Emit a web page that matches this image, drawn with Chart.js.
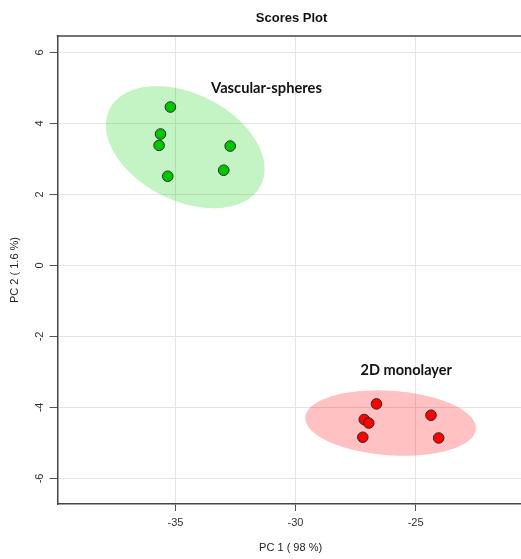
<!DOCTYPE html>
<html>
<head>
<meta charset="utf-8">
<script src="https://cdn.jsdelivr.net/npm/chart.js@4/dist/chart.umd.min.js"></script>
<style>
html,body{margin:0;padding:0;overflow:hidden;background:#fff;}
#wrap{width:521px;height:559px;position:relative;overflow:hidden;}
#c{position:absolute;left:0;top:0;}
</style>
</head>
<body>
<div id="wrap"><canvas id="c" width="530" height="559" style="width:530px;height:559px"></canvas></div>
<script>
// ---- data ----
const groups = ["Vascular-spheres", "2D monolayer"];
const vascX = [-35.21, -35.62, -35.68, -35.32, -32.72, -32.99];
const vascY = [4.46, 3.70, 3.38, 2.51, 3.36, 2.68];
const monoX = [-26.63, -27.14, -26.95, -27.20, -24.36, -24.04];
const monoY = [-3.90, -4.34, -4.44, -4.84, -4.22, -4.86];
// confidence ellipses: centre and two conjugate half-axis vectors (data units)
const ellCX = [-34.59, -26.04];
const ellCY = [3.33, -4.44];
const ellU = [[3.149, -1.070], [3.551, -0.164]];
const ellV = [[-0.994, -1.345], [-0.091, -0.906]];
// group label anchors (data units)
const labelX = [-31.21, -25.39];
const labelY = [4.99, -2.95];
const xTickStep = 5;
const yTickStep = 2;
const xRange = [-39.91, -20.5];
const yRange = [-6.72, 6.46];
const titleText = "Scores Plot";
const xTitle = "PC 1 ( 98 %)";
const yTitle = "PC 2 ( 1.6 %)";

const pointFill = ["#00c800", "#ff0000"];
const ellFill = ["rgba(0,205,0,0.23)", "rgba(255,0,0,0.245)"];

function pts(xs, ys){ return xs.map((x,i)=>({x:x, y:ys[i]})); }
function onStep(v, step){ return Math.abs(v/step - Math.round(v/step)) < 1e-6; }
function gridCol(step){ return (c)=> (c.tick && onStep(c.tick.value, step)) ? '#e4e4e4' : 'rgba(0,0,0,0)'; }
function tickCol(step){ return (c)=> (c.tick && onStep(c.tick.value, step)) ? '#555' : 'rgba(0,0,0,0)'; }

const decor = {
  id: 'decor',
  beforeDatasetsDraw(chart){
    const ctx = chart.ctx, xs = chart.scales.x, ys = chart.scales.y;
    const ca = chart.chartArea;
    ctx.save();
    ctx.beginPath();
    ctx.rect(ca.left, ca.top, ca.right-ca.left, ca.bottom-ca.top);
    ctx.clip();
    for (let g=0; g<ellCX.length; g++){
      ctx.beginPath();
      for (let k=0; k<=180; k++){
        const t = k/180*Math.PI*2;
        const dx = ellCX[g] + Math.cos(t)*ellU[g][0] + Math.sin(t)*ellV[g][0];
        const dy = ellCY[g] + Math.cos(t)*ellU[g][1] + Math.sin(t)*ellV[g][1];
        const px = xs.getPixelForValue(dx), py = ys.getPixelForValue(dy);
        if (k===0) ctx.moveTo(px,py); else ctx.lineTo(px,py);
      }
      ctx.closePath();
      ctx.fillStyle = ellFill[g];
      ctx.fill();
    }
    ctx.restore();
  },
  afterDraw(chart){
    const ctx = chart.ctx, xs = chart.scales.x, ys = chart.scales.y;
    const ca = chart.chartArea;
    ctx.save();
    // top border of the box
    ctx.strokeStyle = '#444';
    ctx.lineWidth = 1.5;
    ctx.beginPath();
    ctx.moveTo(ca.left-0.75, ca.top);
    ctx.lineTo(ca.right, ca.top);
    ctx.stroke();
    // title
    ctx.fillStyle = '#111';
    ctx.font = 'bold 13px "Liberation Sans", Arial, sans-serif';
    ctx.textAlign = 'center';
    ctx.textBaseline = 'middle';
    ctx.fillText(titleText, (ca.left+ca.right)/2 + 1, 18);
    // y tick labels (rotated, R style)
    ctx.font = '11px "Liberation Sans", Arial, sans-serif';
    ctx.fillStyle = '#333';
    ys.ticks.forEach(t=>{
      if (!onStep(t.value, yTickStep)) return;
      const py = ys.getPixelForValue(t.value);
      ctx.save();
      ctx.translate(40, py);
      ctx.rotate(-Math.PI/2);
      ctx.fillText(t.label, 0, 0);
      ctx.restore();
    });
    // group labels
    ctx.fillStyle = '#111';
    const gSize = [14.7, 14.5];
    for (let g=0; g<groups.length; g++){
      ctx.font = 'bold ' + gSize[g] + 'px Lato, "Open Sans", sans-serif';
      ctx.fillText(groups[g], xs.getPixelForValue(labelX[g]), ys.getPixelForValue(labelY[g]));
    }
    ctx.restore();
  }
};

new Chart(document.getElementById('c'), {
  type: 'scatter',
  data: {
    datasets: [
      { label: groups[0], data: pts(vascX, vascY), backgroundColor: pointFill[0], borderColor: '#2a2a2a', borderWidth: 1, pointRadius: 5.3, pointHoverRadius: 5.3 },
      { label: groups[1], data: pts(monoX, monoY), backgroundColor: pointFill[1], borderColor: '#2a2a2a', borderWidth: 1, pointRadius: 5.3, pointHoverRadius: 5.3 }
    ]
  },
  options: {
    responsive: false,
    devicePixelRatio: 1,
    animation: false,
    layout: { padding: { top: 36, left: 0, right: 5.5, bottom: 0 } },
    plugins: { legend: { display: false }, tooltip: { enabled: false }, title: { display: false } },
    scales: {
      x: {
        type: 'linear',
        min: xRange[0], max: xRange[1],
        afterFit(s){ s.height = 55; },
        ticks: { stepSize: xTickStep, includeBounds: false, color: '#333', padding: 5,
                 callback: (v)=> onStep(v, xTickStep) ? String(Math.round(v)) : '',
                 font: { family: '"Liberation Sans", Arial, sans-serif', size: 11 } },
        grid: { color: gridCol(xTickStep), lineWidth: 1, tickLength: 7, tickColor: tickCol(xTickStep), tickWidth: 1 },
        border: { display: true, color: '#444', width: 1.5 },
        title: { display: true, text: xTitle, color: '#222', padding: { top: 0, bottom: 4 },
                 font: { family: '"Liberation Sans", Arial, sans-serif', size: 11 } }
      },
      y: {
        type: 'linear',
        min: yRange[0], max: yRange[1],
        afterFit(s){ s.width = 57.5; },
        ticks: { stepSize: yTickStep, includeBounds: false, display: false },
        grid: { color: gridCol(yTickStep), lineWidth: 1, tickLength: 8, tickColor: tickCol(yTickStep), tickWidth: 1 },
        border: { display: true, color: '#444', width: 1.5 },
        title: { display: true, text: yTitle, color: '#222', padding: { top: 8.4, bottom: 0 },
                 font: { family: '"Liberation Sans", Arial, sans-serif', size: 11 } }
      }
    }
  },
  plugins: [decor]
});
</script>
</body>
</html>
